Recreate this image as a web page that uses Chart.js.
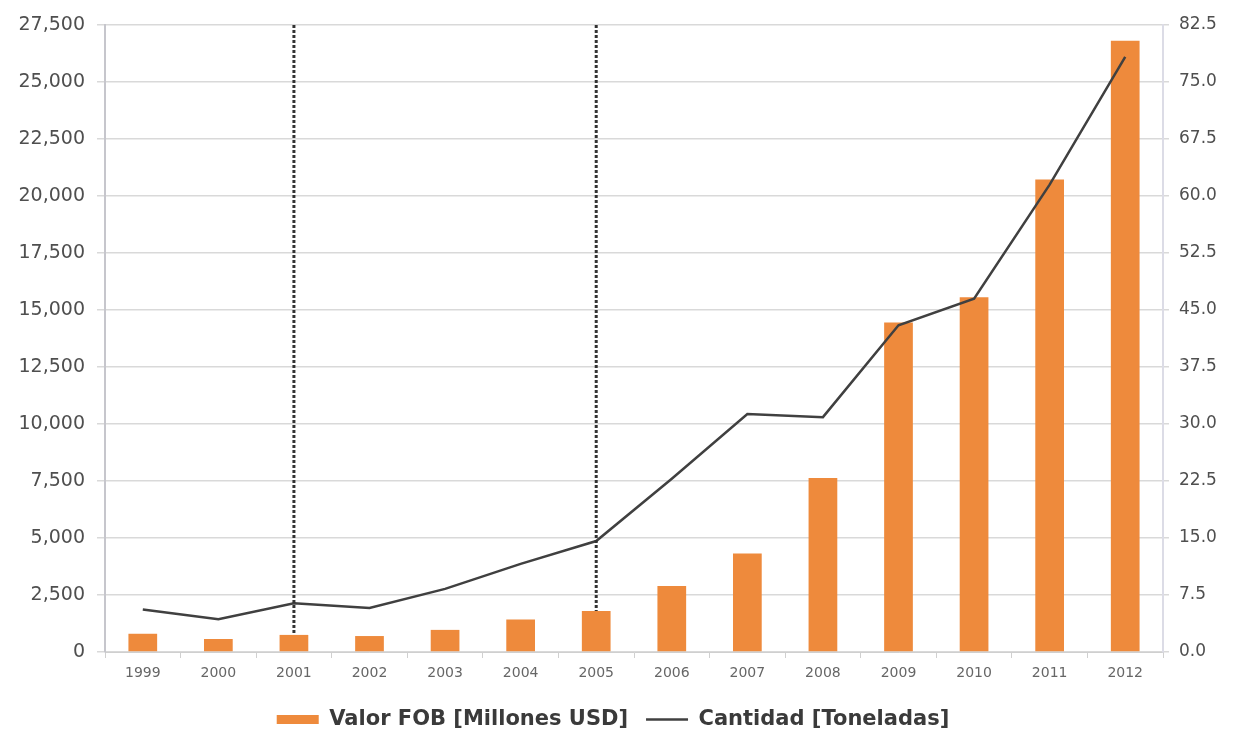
<!DOCTYPE html>
<html lang="es">
<head>
<meta charset="utf-8">
<title>Valor FOB y Cantidad 1999–2012</title>
<script src="https://cdn.jsdelivr.net/npm/chart.js@4.4.1/dist/chart.umd.min.js"></script>
<style>
  html, body { margin: 0; padding: 0; background: #ffffff; }
  #wrap { width: 1234px; height: 729px; }
</style>
</head>
<body>
<div id="wrap"><canvas id="grafico" width="1234" height="729"></canvas></div>
<script>
// Años
const anios = ['1999','2000','2001','2002','2003','2004','2005','2006','2007','2008','2009','2010','2011','2012'];
// Valor FOB [Millones USD] (eje izquierdo)
const valorFOB = [800, 570, 750, 700, 970, 1430, 1800, 2900, 4320, 7630, 14450, 15560, 20720, 26810];
// Cantidad [Toneladas] (eje derecho)
const cantidad = [5.6, 4.3, 6.4, 5.8, 8.3, 11.6, 14.6, 22.8, 31.3, 30.9, 43.0, 46.5, 61.5, 78.3];
// Años marcados con línea punteada
const aniosMarcados = ['2001', '2005'];
// Marcas de los ejes
const ejeIzqMax = 27500, ejeIzqPaso = 2500;
const ejeDerMax = 82.5, ejeDerPaso = 7.5;

const naranja = '#EE8A3C';
const gris = '#404040';
const fuente = 'DejaVu Sans';

// Líneas punteadas verticales: desde el tope del eje hasta la barra del año
const lineasMarcadas = aniosMarcados.map(a => ({
  type: 'line',
  label: 'marca ' + a,
  data: [{ x: a, y: ejeIzqMax }, { x: a, y: valorFOB[anios.indexOf(a)] }],
  yAxisID: 'y',
  borderColor: '#333333',
  borderWidth: 3,
  borderDash: [3, 2],
  pointRadius: 0,
  fill: false,
  order: 0
}));

new Chart(document.getElementById('grafico'), {
  data: {
    labels: anios,
    datasets: [
      {
        type: 'bar',
        label: 'Valor FOB [Millones USD]',
        data: valorFOB,
        yAxisID: 'y',
        backgroundColor: naranja,
        borderWidth: 0,
        barPercentage: 0.38,
        categoryPercentage: 1,
        pointStyle: 'rect',
        order: 2
      },
      {
        type: 'line',
        label: 'Cantidad [Toneladas]',
        data: cantidad,
        yAxisID: 'y1',
        borderColor: gris,
        backgroundColor: gris,
        borderWidth: 2.5,
        pointRadius: 0,
        tension: 0,
        fill: false,
        pointStyle: 'line',
        order: 1
      },
      ...lineasMarcadas
    ]
  },
  options: {
    responsive: false,
    animation: false,
    devicePixelRatio: 1,
    layout: { padding: { top: 25, right: 8, left: 0, bottom: -11 } },
    plugins: {
      tooltip: { enabled: false },
      legend: {
        position: 'bottom',
        labels: {
          filter: item => !item.text.startsWith('marca'),
          sort: (a, b) => a.datasetIndex - b.datasetIndex,
          usePointStyle: true,
          pointStyleWidth: 42,
          boxHeight: 9,
          padding: 18,
          color: '#3a3a3a',
          font: { family: fuente, size: 21, weight: 'bold' }
        }
      }
    },
    scales: {
      x: {
        type: 'category',
        offset: true,
        afterFit: s => { s.height = 39; },
        grid: { offset: true, drawOnChartArea: false, drawTicks: true, tickLength: 6, color: '#d0d0d0' },
        border: { display: true, color: '#cfcfcf', width: 1 },
        ticks: { color: '#666666', font: { family: fuente, size: 14 }, padding: 7, maxRotation: 0, autoSkip: false }
      },
      y: {
        position: 'left',
        min: 0,
        max: ejeIzqMax,
        afterFit: s => { s.width = 105; },
        ticks: {
          stepSize: ejeIzqPaso,
          color: '#4f4f4f',
          padding: 12,
          font: { family: fuente, size: 19 },
          callback: v => v.toLocaleString('en-US')
        },
        grid: { color: '#d9d9d9', lineWidth: 1.5, tickLength: 8 },
        border: { display: true, color: '#c6c6cc', width: 2 }
      },
      y1: {
        position: 'right',
        min: 0,
        max: ejeDerMax,
        afterFit: s => { s.width = 63; },
        ticks: {
          stepSize: ejeDerPaso,
          color: '#4f4f4f',
          padding: 10,
          font: { family: fuente, size: 17 },
          callback: v => v.toFixed(1)
        },
        grid: { drawOnChartArea: false, color: '#d9d9d9', lineWidth: 1.5, tickLength: 6 },
        border: { display: true, color: '#dcdce6', width: 2 }
      }
    }
  }
});
</script>
</body>
</html>
